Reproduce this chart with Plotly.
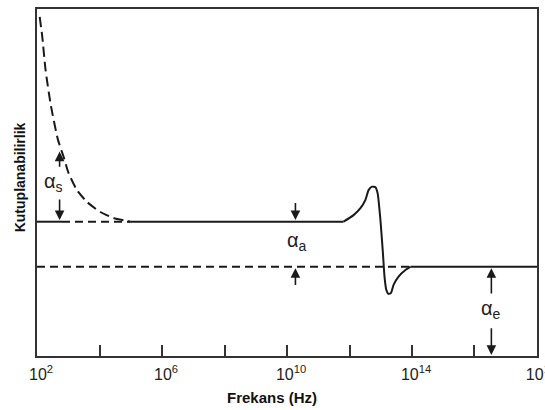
import plotly.graph_objects as go

# ---- data (x as log10 of frequency in Hz, y polarizability in arbitrary units) ----
# alpha_s (orientation / dipolar) dashed decay curve
s_exp = [2.086, 2.163, 2.275, 2.442, 2.666, 2.851, 3.011, 3.28, 3.60, 4.026, 4.442, 4.88, 4.99]
s_pol = [9.77, 9.25, 8.24, 7.23, 6.25, 5.74, 5.27, 4.78, 4.44, 4.15, 3.98, 3.89, 3.87]

# ionic resonance part of the solid curve
r_exp = [11.81, 12.13, 12.35, 12.51, 12.61, 12.72, 12.83, 12.90, 12.99,
         13.07, 13.12, 13.18, 13.25, 13.33, 13.41, 13.57, 13.79, 13.95]
r_pol = [3.87, 4.06, 4.26, 4.50, 4.78, 4.88, 4.86, 4.69, 3.92,
         2.96, 2.29, 1.90, 1.79, 1.82, 2.05, 2.29, 2.48, 2.57]

# level lines
upper_level = 3.87
lower_level = 2.57
upper_solid_left_exp = [2.0, 2.8]
upper_dash_exp = [2.8, 4.99]
upper_solid_exp = [4.99, 11.81]
lower_dash_exp = [2.0, 13.95]
lower_solid_exp = [13.95, 18.0]

tick_exp = [2, 6, 10, 14, 18]
tick_text = ["10<sup>2</sup>", "10<sup>6</sup>", "10<sup>10</sup>",
             "10<sup>14</sup>", "10<sup>18</sup>"]
minor_tick_exp = [4, 8, 12, 16]

# arrows: (x_exp, tail_y, tip_y)
arrows = [
    (2.723, 5.41, 5.89), (2.723, 4.55, 3.92),
    (10.27, 4.45, 3.92), (10.27, 2.00, 2.53),
    (16.54, 1.76, 2.53), (16.54, 0.84, 0.03),
]
# labels: (text, sub, x_exp, y)
labels = [("α", "s", 2.54, 5.0), ("α", "a", 10.32, 3.31), ("α", "e", 16.54, 1.35)]

LINE = "#1a1a1a"

def hz(exps):
    return [10 ** e for e in exps]

fig = go.Figure()
fig.add_trace(go.Scatter(x=hz(s_exp), y=s_pol, mode="lines",
                         line=dict(color=LINE, width=2, dash="10px,5px", shape="spline", smoothing=0.6)))
fig.add_trace(go.Scatter(x=hz(upper_solid_left_exp), y=[upper_level] * 2, mode="lines",
                         line=dict(color=LINE, width=2)))
fig.add_trace(go.Scatter(x=hz(upper_dash_exp), y=[upper_level] * 2, mode="lines",
                         line=dict(color=LINE, width=2, dash="8px,5px")))
fig.add_trace(go.Scatter(x=hz(lower_dash_exp), y=[lower_level] * 2, mode="lines",
                         line=dict(color=LINE, width=2, dash="8px,5px")))
fig.add_trace(go.Scatter(x=hz(upper_solid_exp), y=[upper_level] * 2, mode="lines",
                         line=dict(color=LINE, width=2)))
fig.add_trace(go.Scatter(x=hz(r_exp), y=r_pol, mode="lines",
                         line=dict(color=LINE, width=2, shape="spline", smoothing=0.5)))
fig.add_trace(go.Scatter(x=hz(lower_solid_exp), y=[lower_level] * 2, mode="lines",
                         line=dict(color=LINE, width=2)))

for xe, y0, y1 in arrows:
    fig.add_annotation(x=xe, y=y1, ax=xe, ay=y0, xref="x", yref="y", axref="x", ayref="y",
                       text="", showarrow=True, arrowhead=2, arrowsize=1.2, arrowwidth=1.6,
                       arrowcolor=LINE)
for t, sub, xe, y in labels:
    fig.add_annotation(x=xe, y=y, xref="x", yref="y", showarrow=False,
                       text=f"{t}<sub>{sub}</sub>",
                       font=dict(family="Arial, Liberation Sans, sans-serif", size=20, color="#222"))

fig.add_annotation(x=0.47, y=-0.12, xref="paper", yref="paper", yanchor="middle",
                   text="<b>Frekans (Hz)</b>", showarrow=False,
                   font=dict(family="Arial, Liberation Sans, sans-serif", size=15, color="#111"))
fig.add_annotation(x=-0.034, y=0.515, xref="paper", yref="paper", xanchor="center", yanchor="middle",
                   text="<b>Kutuplanabilirlik</b>", showarrow=False, textangle=-90,
                   font=dict(family="Arial, Liberation Sans, sans-serif", size=14, color="#111"))

fig.update_layout(
    width=545, height=410,
    margin=dict(l=37, r=8, t=9, b=54, autoexpand=False),
    paper_bgcolor="white", plot_bgcolor="white",
    showlegend=False,
    xaxis=dict(type="log", range=[2, 18.0002], tickvals=hz(tick_exp), ticktext=tick_text,
               automargin=False,
               ticks="inside", ticklen=11, tickwidth=2, tickcolor="#333",
               ticklabelshift=4, ticklabelstandoff=3, ticklabeloverflow="allow",
               minor=dict(tickvals=hz(minor_tick_exp), ticks="inside", ticklen=11,
                          tickwidth=2, tickcolor="#333", showgrid=False),
               showline=True, linewidth=2, linecolor="#333", mirror=True,
               showgrid=False, zeroline=False,
               tickfont=dict(family="Arial, Liberation Sans, sans-serif", size=16, color="#222")),
    yaxis=dict(range=[0, 10], showticklabels=False, ticks="", automargin=False,
               showline=True, linewidth=2, linecolor="#333", mirror=True,
               showgrid=False, zeroline=False),
)

fig.write_html("out.html")
